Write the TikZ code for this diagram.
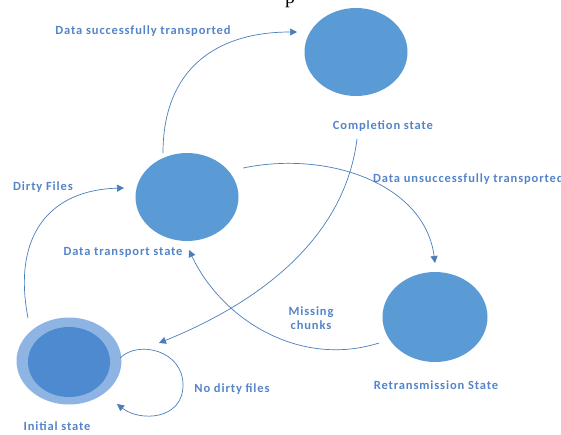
\documentclass[tikz,border=0pt]{standalone}
\usepackage{fontspec}
\setmainfont{Carlito}
\newfontfamily\seriffont{Liberation Serif}
\newfontfamily\lblfont[LetterSpace=7]{Carlito}
\usetikzlibrary{arrows.meta,shapes.geometric}
\definecolor{stfill}{HTML}{5B9BD5}
\definecolor{ringout}{HTML}{8EB4E3}
\definecolor{ringin}{HTML}{4D8ACF}
\definecolor{lbl}{HTML}{5585C8}
\definecolor{conn}{HTML}{4A7EBB}
\tikzset{
  statenode/.style={ellipse, fill=stfill, draw=none, inner sep=0pt, minimum width=103pt, minimum height=88pt},
  lbltext/.style={text=lbl, font=\lblfont\fontsize{12.5}{14}\selectfont\bfseries, inner sep=0pt, align=center},
  connline/.style={draw=conn, line width=0.7pt, -{Triangle[length=7pt,width=7pt]}}
}
\begin{document}
\begin{tikzpicture}[x=1pt,y=-1pt]
\useasboundingbox (0,0) rectangle (561,434);
\clip (0,0) rectangle (561,434);
\fill[white] (0,0) rectangle (561,434);

% cropped caption fragment
\node[font=\seriffont\fontsize{20}{20}\selectfont, anchor=base, text=black, inner sep=0pt] (pfrag) at (290,3) {p};

% states
\node[statenode] (comp) at (356,52) {};
\node[statenode] (dt) at (187,197) {};
\node[statenode, minimum width=105pt, minimum height=90pt] (retr) at (435,317) {};
\node[ellipse, fill=ringout, inner sep=0pt, minimum width=105pt, minimum height=87pt] (init) at (69,361) {};
\node[ellipse, fill=ringin, inner sep=0pt, minimum width=82pt, minimum height=70pt] (initin) at (69,362) {};

% labels
\node[lbltext] (complbl) at (383,126) {Completion state};
\node[lbltext] (dtlbl) at (123,252) {Data transport state};
\node[lbltext] (retrlbl) at (436,385) {Retransmission State};
\node[lbltext] (initlbl) at (57,426) {Initial state};
\node[lbltext] (succ) at (143,31) {Data successfully transported};
\node[lbltext, anchor=west] (unsucc) at (373,179) {Data unsuccessfully transported};
\node[lbltext] (dirty) at (43,187) {Dirty Files};
\node[lbltext] (nodirty) at (232,389) {No dirty files};
\node[lbltext] (missing) at (311,318) {Missing\\chunks};

% connector end points off the nodes
\coordinate (s1) at (163,153);
\coordinate (t1) at (297,32);
\coordinate (s2) at (357,139);
\coordinate (t2) at (159,343);
\coordinate (s3) at (243,168);
\coordinate (t3) at (435,263);
\coordinate (s4) at (379,343);
\coordinate (t4) at (189,250);
\coordinate (s5) at (28,318);
\coordinate (t5) at (124,188);
\coordinate (s6) at (120,358);
\coordinate (t6) at (117,404);

% connectors
\draw[connline] (s1) .. controls (163,70) and (215,32) .. (t1);
\draw[connline] (s2) .. controls (345,235) and (265,300) .. (t2);
\draw[connline] (s3) .. controls (330,150) and (425,185) .. (t3);
\draw[connline] (s4) .. controls (300,368) and (222,320) .. (t4);
\draw[connline] (s5) .. controls (12,235) and (50,190) .. (t5);
\draw[connline] (s6) .. controls (138,340) and (183,350) .. (183,385) .. controls (183,420) and (140,422) .. (t6);
\end{tikzpicture}
\end{document}
